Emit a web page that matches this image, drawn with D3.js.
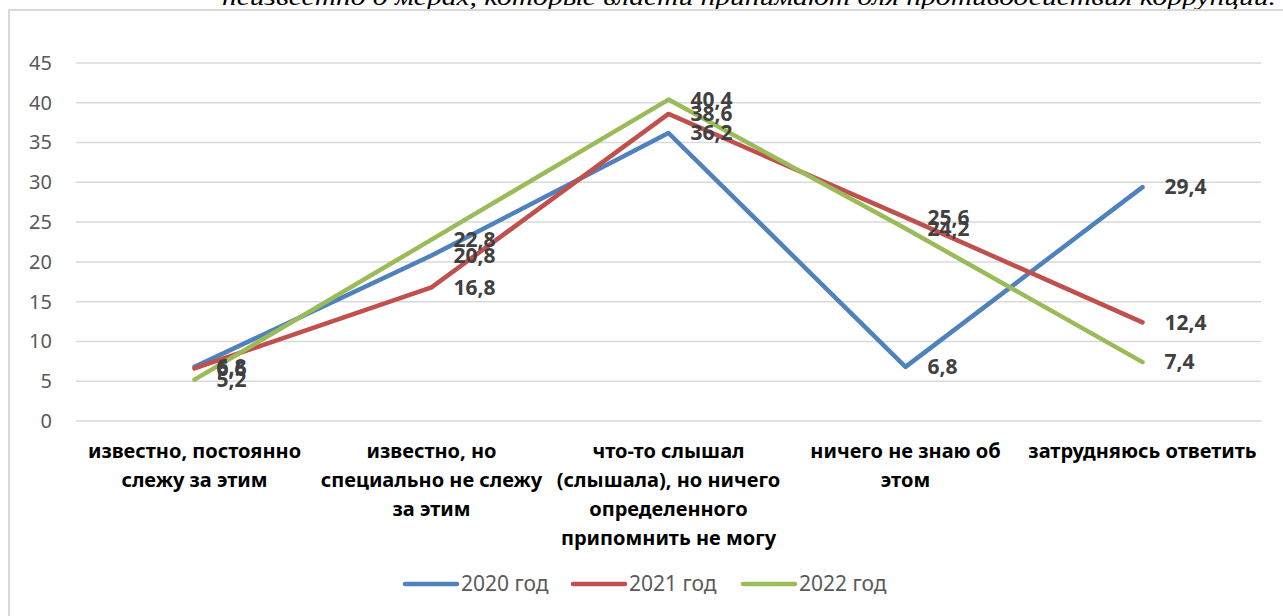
<!DOCTYPE html>
<html>
<head>
<meta charset="utf-8">
<script src="https://cdn.jsdelivr.net/npm/d3@7"></script>
<style>
  body { margin: 0; background: #fff; }
  svg { display: block; }
</style>
</head>
<body>
<div id="chart"></div>
<script>
// данные графика
const categories = [
    ['известно, постоянно', 'слежу за этим'],
    ['известно, но', 'специально не слежу', 'за этим'],
    ['что-то слышал', '(слышала), но ничего', 'определенного', 'припомнить не могу'],
    ['ничего не знаю об', 'этом'],
    ['затрудняюсь ответить']
]
const seriesNames = ['2020 год', '2021 год', '2022 год']
const values2020 = [6.8, 20.8, 36.2, 6.8, 29.4]
const values2021 = [6.6, 16.8, 38.6, 25.6, 12.4]
const values2022 = [5.2, 22.8, 40.4, 24.2, 7.4]
const yTicks = [0, 5, 10, 15, 20, 25, 30, 35, 40, 45]
const colors = ['#4F81BD', '#C0504D', '#9BBB59']

const width = 1283
const height = 616
const margin = { top: 63, right: 22, bottom: 195, left: 76 }

const svg = d3.select('#chart').append('svg')
    .attr('width', width)
    .attr('height', height)

// верхний обрезанный текст
svg.append('text')
    .attr('x', 1276)
    .attr('y', 5)
    .attr('text-anchor', 'end')
    .attr('textLength', 1054)
    .attr('lengthAdjust', 'spacingAndGlyphs')
    .style('font-family', '"Liberation Serif", serif')
    .style('font-style', 'italic')
    .style('font-size', '24px')
    .attr('fill', '#000')
    .text('неизвестно о мерах, которые власти принимают для противодействия коррупции.')

// рамка
svg.append('rect')
    .attr('x', 9)
    .attr('y', 10)
    .attr('width', 1300)
    .attr('height', 700)
    .attr('fill', 'none')
    .attr('stroke', '#d9d9d9')
    .attr('stroke-width', 2)

const x = d3.scaleBand()
    .domain(d3.range(categories.length))
    .range([margin.left, width - margin.right])

const y = d3.scaleLinear()
    .domain([0, 45])
    .range([height - margin.bottom, margin.top])

// сетка
svg.append('g')
    .selectAll('line')
    .data(yTicks)
    .enter().append('line')
    .attr('x1', margin.left)
    .attr('x2', width - margin.right)
    .attr('y1', d => y(d))
    .attr('y2', d => y(d))
    .attr('stroke', '#d9d9d9')
    .attr('stroke-width', 1.5)

// ось Y
const yAxis = d3.axisLeft(y).tickValues(yTicks).tickSize(0).tickPadding(24)
const gy = svg.append('g')
    .attr('transform', 'translate(' + margin.left + ',0)')
    .call(yAxis)
gy.select('.domain').remove()
gy.selectAll('text')
    .style('font-family', '"Noto Sans", sans-serif')
    .style('font-size', '20px')
    .attr('fill', '#595959')

// подписи категорий
const catG = svg.append('g')
categories.forEach((lines, i) => {
    const t = catG.append('text')
        .attr('text-anchor', 'middle')
        .style('font-family', '"Noto Sans", sans-serif')
        .style('font-weight', 'bold')
        .style('font-size', '20px')
        .attr('fill', '#000')
    lines.forEach((ln, j) => {
        t.append('tspan')
            .attr('x', x(i) + x.bandwidth() / 2)
            .attr('y', 458 + j * 29)
            .text(ln)
    })
})

// линии
const allSeries = [values2020, values2021, values2022]
const line = d3.line()
    .x((d, i) => x(i) + x.bandwidth() / 2)
    .y(d => y(d))

allSeries.forEach((vals, s) => {
    svg.append('path')
        .datum(vals)
        .attr('d', line)
        .attr('fill', 'none')
        .attr('stroke', colors[s])
        .attr('stroke-width', 4.5)
        .attr('stroke-linecap', 'round')
        .attr('stroke-linejoin', 'round')
})

// подписи данных
allSeries.forEach((vals, s) => {
    svg.append('g')
        .selectAll('text')
        .data(vals)
        .enter().append('text')
        .attr('x', (d, i) => x(i) + x.bandwidth() / 2 + 22)
        .attr('y', d => y(d))
        .attr('dy', '0.35em')
        .style('font-family', '"Noto Sans", sans-serif')
        .style('font-weight', 'bold')
        .style('font-size', '21px')
        .attr('fill', '#404040')
        .text(d => String(d).replace('.', ','))
})

// легенда
const legendX = [405, 573, 743]
const leg = svg.append('g')
seriesNames.forEach((name, s) => {
    leg.append('line')
        .attr('x1', legendX[s])
        .attr('x2', legendX[s] + 52)
        .attr('y1', 584)
        .attr('y2', 584)
        .attr('stroke', colors[s])
        .attr('stroke-width', 4.5)
        .attr('stroke-linecap', 'round')
    leg.append('text')
        .attr('x', legendX[s] + 56)
        .attr('y', 584)
        .attr('dy', '0.35em')
        .style('font-family', '"Noto Sans", sans-serif')
        .style('font-size', '21px')
        .attr('fill', '#595959')
        .text(name)
})
</script>
</body>
</html>
